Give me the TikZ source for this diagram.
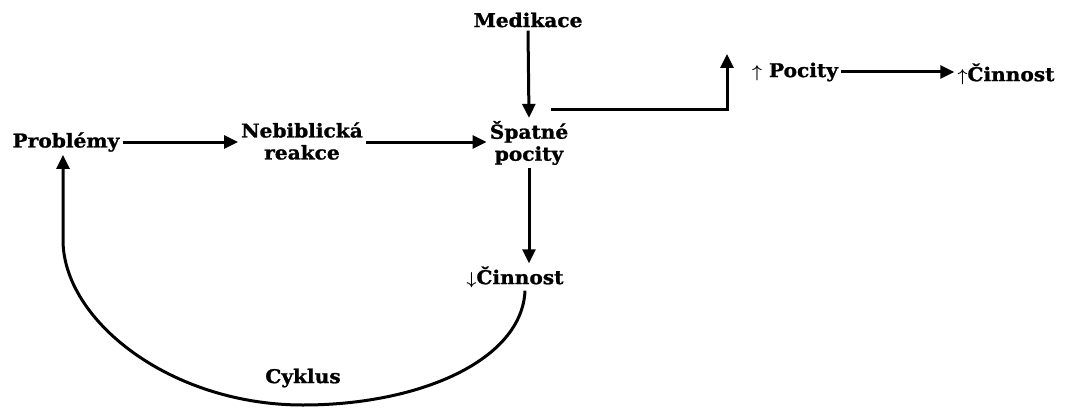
\documentclass[tikz,border=0pt]{standalone}
\usepackage{fontspec}
\usepackage{amsmath}
\setmainfont{DejaVu Serif}[FakeStretch=1.06,BoldFeatures={FakeBold=1.2}]
\usetikzlibrary{arrows.meta}

\tikzset{
  lbl/.style={font=\fontsize{19}{22}\selectfont\bfseries, inner sep=3pt, align=center},
  arr/.style={line width=3pt, -{Triangle[length=14pt,width=13pt]}},
}
\newcommand{\smallup}{{\fontsize{18}{18}\selectfont$\boldsymbol{\uparrow}$}}
\newcommand{\smalldown}{{\fontsize{18}{18}\selectfont$\boldsymbol{\downarrow}$}}

\begin{document}
\begin{tikzpicture}[x=1pt,y=-1pt]
    \useasboundingbox (0,0) rectangle (1067,409);

    % draw labels
    \node[lbl] (probl) at (66,142) {Problémy};
    \node[lbl] (nebib) at (302,141) {Nebiblická\\reakce};
    \node[lbl] (spatne) at (529,143) {Špatné\\pocity};
    \node[lbl] (medik) at (528,20) {Medikace};
    \node[lbl] (pocity) at (795,72) {\smallup\ Pocity};
    \node[lbl] (cinn1) at (1006,74) {\smallup Činnost};
    \node[lbl] (cinn2) at (515,277) {\smalldown Činnost};
    \node[lbl] (cyklus) at (303,378) {Cyklus};

    \coordinate (sp-out) at (551,110);
    \coordinate (up-tip) at (727,54);

    % draw arrows
    \draw[arr] (probl.east) -- (probl.east -| nebib.west);
    \draw[arr] (nebib.east |- probl.east) -- (probl.east -| spatne.west);
    \draw[arr] (medik.south) -- (spatne.north);
    \draw[arr] (sp-out) -| (up-tip);
    \draw[arr] (pocity.east) -- (pocity.east -| cinn1.west);
    \draw[arr] (spatne.south) -- (spatne.south |- cinn2.north);

    % draw cycle
    \draw[arr] ([xshift=10pt]cinn2.south) .. controls (522,360) and (420,405) .. (303,405)
        .. controls (170,405) and (63,320) .. (63,240) -- (probl.south -| 63,0);
\end{tikzpicture}
\end{document}
